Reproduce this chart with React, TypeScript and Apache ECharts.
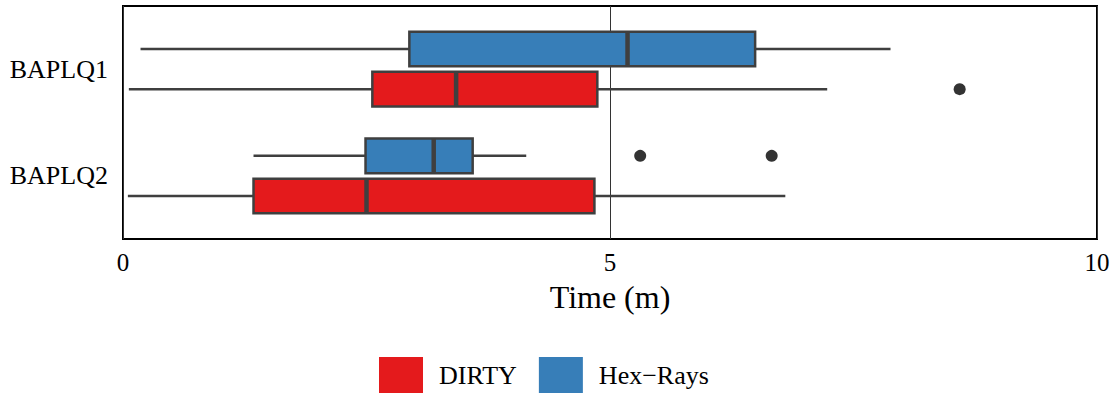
import React, { useEffect, useRef } from "react";
import * as echarts from "echarts";

const categories = ["BAPLQ1", "BAPLQ2"];
const seriesNames = ["DIRTY", "Hex\u2212Rays"];
const colors = ["#e41a1c", "#377eb8"];
// [min, q1, median, q3, max] per category
const dirtyStats = [
  [0.06, 2.56, 3.42, 4.87, 7.23],
  [0.05, 1.34, 2.5, 4.84, 6.8],
];
const hexStats = [
  [0.18, 2.94, 5.18, 6.49, 7.88],
  [1.34, 2.49, 3.19, 3.59, 4.14],
];
// [categoryIndex, value]
const dirtyOutliers = [[0, 8.59]];
const hexOutliers = [
  [1, 5.31],
  [1, 6.66],
];
const xTicks = [0, 5, 10];

const OFFSET = 0.188;
const HALF = 0.162;
const EDGE = "#3f3f3f";
const FONT = "'Liberation Serif', 'Times New Roman', serif";

function boxSeries(name: string, stats: number[][], color: string, off: number) {
  return {
    type: "custom",
    name,
    color,
    itemStyle: { color },
    encode: { x: [1, 2, 3, 4, 5], y: 0 },
    data: stats.map((s, i) => [i, ...s]),
    renderItem: (params: any, api: any) => {
      const c = api.value(0) + off;
      const lo = api.value(1), q1 = api.value(2), med = api.value(3), q3 = api.value(4), hi = api.value(5);
      const pLo = api.coord([lo, c]);
      const pQ1 = api.coord([q1, c]);
      const pMed = api.coord([med, c]);
      const pQ3 = api.coord([q3, c]);
      const pHi = api.coord([hi, c]);
      const h = Math.abs(api.size([0, HALF])[1]);
      const y = pQ1[1];
      return {
        type: "group",
        children: [
          { type: "line", shape: { x1: pLo[0], y1: y, x2: pQ1[0], y2: y }, style: { stroke: EDGE, lineWidth: 2.5 } },
          { type: "line", shape: { x1: pQ3[0], y1: y, x2: pHi[0], y2: y }, style: { stroke: EDGE, lineWidth: 2.5 } },
          {
            type: "rect",
            shape: { x: pQ1[0], y: y - h, width: pQ3[0] - pQ1[0], height: 2 * h },
            style: { fill: color, stroke: EDGE, lineWidth: 2.5 },
          },
          { type: "line", shape: { x1: pMed[0], y1: y - h, x2: pMed[0], y2: y + h }, style: { stroke: EDGE, lineWidth: 4.5 } },
        ],
      };
    },
    z: 3,
  };
}

function outlierSeries(name: string, pts: number[][], off: number) {
  return {
    type: "scatter",
    name,
    symbol: "circle",
    symbolSize: 12,
    itemStyle: { color: "#333333", opacity: 1 },
    data: pts.map((p) => [p[1], p[0] + off]),
    z: 4,
  };
}

export default function App() {
  const ref = useRef<HTMLDivElement>(null);
  useEffect(() => {
    const chart = echarts.init(ref.current!, undefined, { renderer: "svg" });
    chart.setOption({
      animation: false,
      textStyle: { fontFamily: FONT },
      grid: {
        left: 123,
        right: 20,
        top: 6,
        bottom: 154,
        show: true,
        borderColor: "#000",
        borderWidth: 2,
        backgroundColor: "transparent",
      },
      xAxis: {
        type: "value",
        min: xTicks[0],
        max: xTicks[xTicks.length - 1],
        interval: 5,
        name: "Time (m)",
        nameLocation: "middle",
        nameGap: 42,
        nameTextStyle: { fontSize: 32, color: "#000", fontFamily: FONT },
        axisLine: { show: false },
        axisTick: { show: false },
        axisLabel: { fontSize: 25, color: "#000", margin: 11, fontFamily: FONT },
        splitLine: { show: true, lineStyle: { color: "#333", width: 1 } },
      },
      yAxis: {
        type: "value",
        inverse: true,
        min: -0.59,
        max: 1.59,
        axisLine: { show: false },
        axisTick: { show: false },
        splitLine: { show: false },
        axisLabel: {
          customValues: [0, 1],
          formatter: (v: number) => categories[Math.round(v)] ?? "",
          fontSize: 26,
          color: "#000",
          margin: 15,
          fontFamily: FONT,
        },
      },
      legend: {
        left: 379,
        top: 357,
        padding: 0,
        itemWidth: 44,
        itemHeight: 36,
        itemGap: 22,
        textStyle: { fontSize: 26, color: "#000", padding: [0, 0, 0, 11], fontFamily: FONT },
        data: [
          { name: seriesNames[0], icon: "rect", itemStyle: { color: colors[0], borderWidth: 0 } },
          { name: seriesNames[1], icon: "rect", itemStyle: { color: colors[1], borderWidth: 0 } },
        ],
      },
      series: [
        boxSeries(seriesNames[0], dirtyStats, colors[0], OFFSET),
        boxSeries(seriesNames[1], hexStats, colors[1], -OFFSET),
        outlierSeries("DIRTY outliers", dirtyOutliers, OFFSET),
        outlierSeries("Hex-Rays outliers", hexOutliers, -OFFSET),
      ],
    });
    return () => chart.dispose();
  }, []);
  return (
    <div
      ref={ref}
      style={{ position: "fixed", left: 0, top: 0, width: 1117, height: 393, background: "#fff" }}
    />
  );
}
